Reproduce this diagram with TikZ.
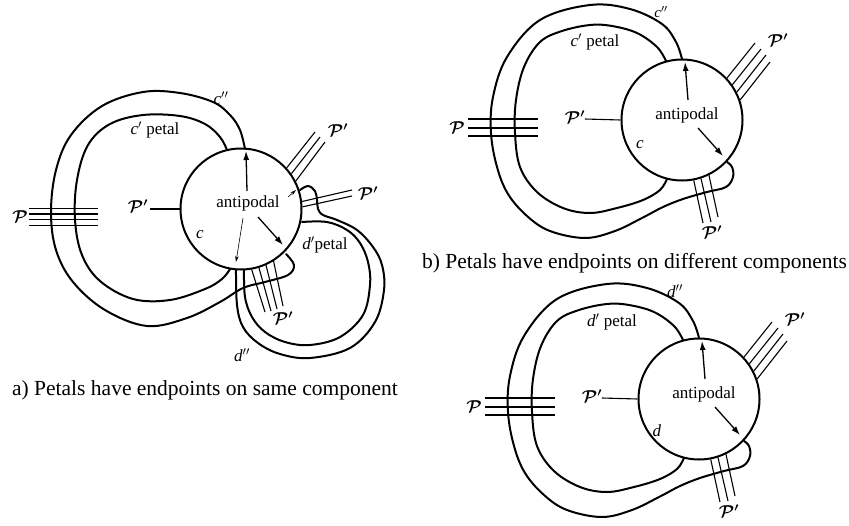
\documentclass[tikz,border=0pt]{standalone}
\usepackage{fontspec}
\setmainfont{Liberation Serif}
\usetikzlibrary{arrows.meta}
\tikzset{
  curve/.style={line width=2pt, line join=round, line cap=round},
  pline/.style={line width=1.1pt},
  ring/.style={draw, circle, line width=2pt, minimum size=121pt, inner sep=0pt},
  lab/.style={font=\fontsize{17}{20}\selectfont, inner sep=0pt},
  bigarrow/.style={line width=1.3pt, -{Latex[length=9pt,width=6pt]}},
  thinarrow/.style={line width=0.6pt, -{Stealth[length=6pt,width=3.5pt]}},
  capa/.style={font=\fontsize{21.5}{24}\selectfont, inner sep=0pt},
  capb/.style={font=\fontsize{21.5}{24}\selectfont, inner sep=0pt}
}
\newcommand\Pcal{{\boldmath$\mathcal{P}$}}
\newcommand\Pprime{{\boldmath$\mathcal{P}'$}}
\newcommand\petalpanel[1]{%
  \node[ring] (#1c) at (682,120) {};
  \draw[curve] plot[smooth, tension=0.6] coordinates {(682,59) (676,42) (662,24) (630,9) (590,5) (540,20) (507,57) (493,97) (491,133) (497,167) (508,194) (527,216) (550,231) (585,238) (615,231) (642,218) (663,207) (683,199) (707,192) (726,187) (733,177) (732,167) (727,162)};
  \draw[curve] plot[smooth, tension=0.6] coordinates {(666,61) (657,47) (637,33) (612,26) (590,25) (562,31) (540,42) (524,67) (516,100) (515,133) (520,167) (537,192) (563,208) (590,213) (617,208) (643,200) (660,190) (667,179)};
  \foreach \yy in {119,128,136} \draw[pline] (468,\yy) -- (538,\yy);
  \coordinate (#1pc) at (585,119);
  \draw[pline] (#1c.180) -- (#1pc);
  \draw[pline] (#1c.43.7) -- (755,43);
  \draw[pline] (#1c.35.5) -- (761,49);
  \draw[pline] (#1c.27.4) -- (766,55);
  \draw[pline] (#1c.19.9) -- (770,62);
  \draw[pline] (#1c.-79.4) -- (703,223);
  \draw[pline] (#1c.-72.6) -- (711,222);
  \draw[pline] (#1c.-64.3) -- (718,217);
  \coordinate (#1a1) at (688,100); \coordinate (#1a2) at (685,62);
  \coordinate (#1b1) at (698,128); \coordinate (#1b2) at (723,156);
  \draw[bigarrow] (#1a1) -- (#1a2);
  \draw[bigarrow] (#1b1) -- (#1b2);
  \node[lab] (#1lP) at (457,128) {\Pcal};
  \node[lab] (#1lPc) at (575,117) {\Pprime};
  \node[lab] (#1lant) at (687,115) {antipodal};
  \node[lab] (#1lPu) at (778,40) {\Pprime};
  \node[lab] (#1lPb) at (712,232) {\Pprime};
}
\begin{document}
\begin{tikzpicture}[x=1pt,y=-1pt]
\useasboundingbox (0,0) rectangle (849,525);
% ---------- panel a ----------
\node[ring] (ca) at (241,209) {};
\draw[curve] plot[smooth, tension=0.6] coordinates {(245,149) (240,130) (230,115) (213,102) (180,93) (143,92) (102,106) (71,135) (56,170) (51,212) (56,250) (73,282) (105,310) (147,326) (187,318) (220,302) (243,288) (265,282) (288,275) (294,265) (286,254)};
\draw[curve] plot[smooth, tension=0.6] coordinates {(227,150) (220,137) (205,124) (180,116) (143,115) (110,124) (88,145) (77,180) (75,220) (82,255) (100,281) (133,299) (170,300) (205,289) (222,279) (230,269)};
\draw[curve] plot[smooth, tension=0.6] coordinates {(300,190) (308,186) (315,191) (317,200) (318,209) (323,215) (337,220) (357,230) (373,247) (382,265) (384,290) (375,322) (350,348) (310,358) (280,354) (258,343) (243,327) (237,305) (236,270)};
\draw[curve] plot[smooth, tension=0.6] coordinates {(302,222) (327,222) (347,230) (360,243) (368,262) (370,285) (363,315) (340,337) (310,345) (285,342) (265,332) (252,317) (245,297) (244,270)};
\foreach \yy in {208.5,214,219.5,225.5} \draw[pline] (29,\yy) -- (98,\yy);
\coordinate (apc) at (150,209);
\draw[pline] (ca.180) -- (apc);
\draw[pline] (ca.42.4) -- (315,132);
\draw[pline] (ca.35.2) -- (320,137);
\draw[pline] (ca.27.4) -- (325,142);
\draw[pline] (ca.7) -- (352,190);
\draw[pline] (ca.2) -- (352,196);
\draw[pline] (ca.-80.4) -- (265,312);
\draw[pline] (ca.-73.5) -- (271,311);
\draw[pline] (ca.-66.4) -- (277,309);
\draw[pline] (ca.-58.9) -- (283,306);
\coordinate (aa1) at (247,191); \coordinate (aa2) at (246,151);
\coordinate (ab1) at (258,217); \coordinate (ab2) at (283,245);
\coordinate (ac1) at (243,218); \coordinate (ac2) at (236,262);
\coordinate (ad1) at (288,197); \coordinate (ad2) at (296,190);
\draw[bigarrow] (aa1) -- (aa2);
\draw[bigarrow] (ab1) -- (ab2);
\draw[thinarrow] (ac1) -- (ac2);
\draw[thinarrow] (ad1) -- (ad2);
\node[lab] (alc2) at (221,98) {\textit{c}$''$};
\node[lab] (alcp) at (155,130) {\textit{c}$'$ petal};
\node[lab] (alP) at (20,217) {\Pcal};
\node[lab] (alPc) at (138,206) {\Pprime};
\node[lab] (alant) at (248,203) {antipodal};
\node[lab] (alc) at (200,235) {\textit{c}};
\node[lab] (alPu) at (338,130) {\Pprime};
\node[lab] (alPr) at (368,193) {\Pprime};
\node[lab] (aldp) at (325,245) {\textit{d}$'$petal};
\node[lab] (alPb) at (283,318) {\Pprime};
\node[lab] (ald2) at (242,355) {\textit{d}$''$};
\node[capa] (capa) at (205,390) {a) Petals have endpoints on same component};
% ---------- panel b ----------
\begin{scope}
\petalpanel{b}
\node[lab, font=\fontsize{15}{18}\selectfont] (blc2) at (661,12) {\textit{c}$''$};
\node[lab] (blcp) at (595,42) {\textit{c}$'$ petal};
\node[lab] (blc) at (640,145) {\textit{c}};
\end{scope}
\node[capb, anchor=west] (capb) at (422,263) {b) Petals have endpoints on different components};
% ---------- panel c ----------
\begin{scope}[shift={(17,279)}]
\petalpanel{c}
\node[lab] (clc2) at (658,12) {\textit{d}$''$};
\node[lab] (clcp) at (595,43) {\textit{d}$'$ petal};
\node[lab] (clc) at (640,152) {\textit{d}};
\end{scope}
\end{tikzpicture}
\end{document}
